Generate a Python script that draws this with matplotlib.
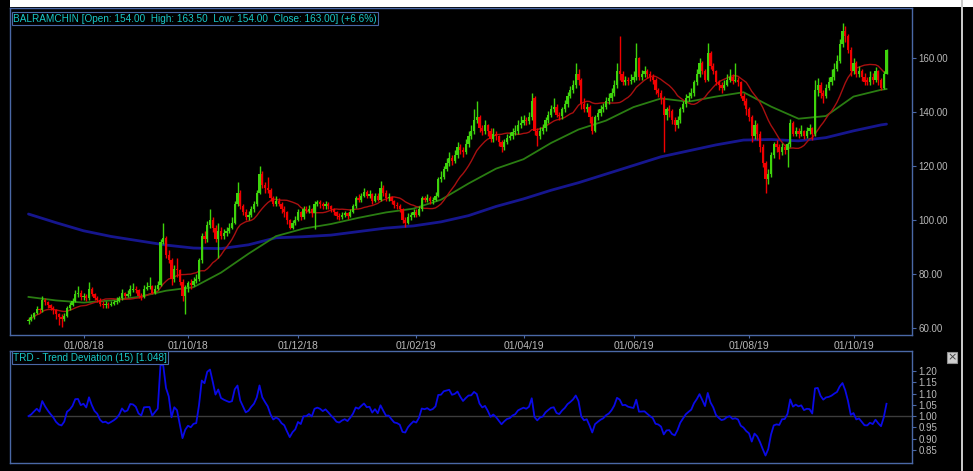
import matplotlib
matplotlib.use("Agg")
import matplotlib.pyplot as plt
from matplotlib.patches import Rectangle
import numpy as np
import pandas as pd

# ---------------- data (daily candles, BALRAMCHIN) ----------------
opens = [62.5, 63, 64, 65.5, 67, 66.5, 70.5, 69.5, 68.5, 67.5,
         66.5, 65, 64, 63.5, 64.5, 67.5, 68.5, 70, 72.5, 73,
         71.5, 72, 71, 74.5, 72.5, 71, 70.5, 69, 68.5, 69,
         68.5, 69, 69.5, 70, 71, 73, 72, 72.5, 74, 74.5,
         74, 72, 71.5, 74.5, 75, 75.5, 73, 74.5, 76, 92,
         93.5, 87, 85, 78, 82, 81.5, 77, 72, 75, 76.5,
         76, 77.5, 78, 85, 94, 93, 98, 100, 97, 93,
         96, 94, 95, 96, 97, 99, 106, 110, 105, 103,
         101, 102, 104, 106, 110, 117, 113, 112, 111, 108,
         106, 107, 106, 104, 103, 100, 97, 99, 100, 103,
         101, 104, 103.5, 104, 102.5, 106, 106.5, 106, 105, 106,
         105, 104, 103, 101.5, 101, 102, 102.5, 101.5, 103, 105,
         108, 107.5, 109, 110.5, 109, 109.5, 107, 109, 107.5, 112,
         110, 108, 108.5, 107, 105.5, 105, 104, 100, 99, 101,
         102, 103, 102, 104, 108, 107.5, 108, 107, 107.5, 109,
         115, 116, 119, 121, 123, 122, 124, 127, 126, 125,
         128, 131, 133, 137, 138, 134, 133, 135, 133, 130,
         132, 131, 129, 127, 129, 130.5, 131, 132.5, 133, 135,
         136, 137, 136.5, 138, 145, 133, 131, 133, 134, 137,
         139, 141, 142, 139, 138.5, 141, 143, 146, 148, 150,
         154, 152, 143, 141, 142, 138, 133, 138, 139.5, 141,
         142, 144, 145, 147, 150, 155, 154, 151, 152, 151.5,
         152, 153, 160, 153, 154, 155, 154, 153, 152, 148,
         147, 145, 139, 141, 140.5, 137, 135, 137, 141, 143,
         145, 146, 147, 151, 154, 158, 155, 152, 162, 157,
         155, 151, 150, 149, 150, 152, 153, 151.5, 152, 151,
         146, 144, 141, 138, 131, 135, 132, 127, 121, 115,
         117, 124, 128, 127, 125, 127, 126, 128, 136, 132,
         133, 132, 133, 131, 133, 134, 132, 148, 150, 147,
         146, 149, 151, 153, 156, 159, 165, 170, 168, 163,
         155, 158, 154, 155, 153, 152, 151, 153, 152, 155,
         152, 149, 154]
closes = [63, 64, 65.5, 67, 66.5, 70.5, 69.5, 68.5, 67.5, 66.5,
          65, 64, 63.5, 64.5, 67.5, 68.5, 70, 72.5, 73, 71.5,
          72, 71, 74.5, 72.5, 71, 70.5, 69, 68.5, 69, 68.5,
          69, 69.5, 70, 71, 73, 72, 72.5, 74.5, 74.5, 74,
          72, 71.5, 74.5, 75, 75.5, 73, 74.5, 76, 92, 93.5,
          87, 85, 78, 82, 81.5, 77, 72, 75, 76.5, 76,
          77.5, 78, 85, 94, 93, 98, 100, 97, 93, 96,
          94, 95, 96, 97, 99, 106, 110, 105, 103, 101,
          102, 104, 106, 110, 117, 113, 112, 111, 108, 106,
          107, 106, 104, 103, 100, 97, 99, 100, 103, 101,
          104, 103.5, 104, 102.5, 106, 106.5, 106, 105, 106, 105,
          104, 103, 101.5, 101, 102, 102.5, 101.5, 103, 105, 108,
          107.5, 109, 110.5, 109, 109.5, 107, 109, 107.5, 112, 110,
          108, 108.5, 107, 105.5, 105, 104, 100, 99, 101, 102,
          103, 102, 104, 108, 107.5, 108, 107, 107.5, 109, 115,
          116, 119, 121, 123, 122, 124, 127, 126, 125, 128,
          131, 133, 137, 138, 134, 133, 135, 133, 130, 132,
          131, 129, 127, 129, 130.5, 131, 132.5, 133, 135, 136,
          137, 136.5, 138, 144, 133, 131, 133, 134, 137, 139,
          141, 142, 139, 138.5, 141, 143, 146, 148, 150, 154,
          152, 143, 141, 142, 138, 133, 138, 139.5, 141, 142,
          144, 145, 147, 150, 155, 154, 151, 152, 151.5, 152,
          153, 160, 153, 154, 155, 154, 153, 152, 148, 147,
          145, 139, 141, 140.5, 137, 135, 137, 141, 143, 145,
          146, 147, 151, 154, 158, 155, 152, 162, 157, 155,
          151, 150, 149, 150, 152, 153, 151.5, 152, 151, 146,
          144, 141, 138, 131, 135, 132, 127, 121, 115, 117,
          124, 128, 127, 125, 127, 126, 128, 136, 132, 133,
          132, 133, 131, 133, 134, 132, 148, 150, 147, 146,
          149, 151, 153, 156, 159, 165, 170, 168, 163, 155,
          158, 154, 155, 153, 151, 151, 153, 152, 155, 152,
          149, 154, 163]
highs = [64, 65, 66, 68, 67.5, 72, 71, 70, 69, 68,
         67, 65.5, 65, 65.5, 68, 69.5, 71, 74, 75.5, 74,
         73, 72.5, 77, 75, 73, 72, 71, 70, 70, 69.5,
         70, 70.5, 71.5, 72, 74.5, 73.5, 74, 76, 76.5, 75.5,
         74.5, 73, 76, 77, 79, 76, 76, 77.5, 93, 99,
         94, 89, 86, 83.5, 86, 82, 78, 76, 77.5, 78,
         79, 80, 86, 95, 96, 99.5, 104, 101, 98, 99,
         97.5, 96.5, 97.5, 99, 101, 107, 114, 111, 106, 104,
         103.5, 105, 107, 111, 120, 118, 114, 116, 112, 109,
         109, 108, 106.5, 105, 103.5, 100.5, 100, 101.5, 104, 103.5,
         105, 105, 105.5, 104.5, 107, 107.5, 107.5, 106.5, 107, 106.5,
         105.5, 104.5, 103.5, 102.5, 103, 103.5, 103, 104, 106, 109,
         109.5, 110, 112, 111, 111, 110, 110, 110, 114.5, 113,
         111, 110, 109, 107.5, 106.5, 106, 104.5, 101, 102.5, 103,
         104, 104, 105, 109, 109, 109.5, 109, 108.5, 110.5, 116,
         118, 120, 123, 125, 124, 126, 129, 128, 127, 130,
         133, 135, 141, 144, 139, 135, 137, 135.5, 134, 134,
         133, 131.5, 129.5, 130, 132, 132.5, 134, 135, 137, 138.5,
         139, 138, 140, 147, 146, 134, 134.5, 135.5, 138, 140.5,
         142.5, 145, 143, 140, 142, 144.5, 147.5, 149.5, 152, 158,
         156, 152.5, 145, 143.5, 142.5, 138.5, 139, 141, 142.5, 143.5,
         145.5, 147, 149, 152, 158, 168, 155, 153.5, 153, 154,
         155, 165.5, 160.5, 155.5, 157, 156, 155, 154, 152.5, 149,
         148, 146, 142, 142.5, 141, 138, 138.5, 142, 144, 146.5,
         147.5, 149, 152, 156, 160, 159, 156, 165.5, 162.5, 158,
         155.5, 152, 151, 152, 154, 156, 154, 158, 153, 151.5,
         147, 145, 142, 139, 137, 136, 133, 128, 122, 119,
         125, 129, 129.5, 128, 128.5, 128, 129, 137.5, 136.5, 134.5,
         134, 135, 133.5, 134.5, 135.5, 134.5, 152, 152.5, 151, 148,
         150.5, 153, 156, 158, 161, 167, 173, 172, 169, 164,
         160, 159, 157, 156, 154.5, 153, 155, 154.5, 156.5, 155.5,
         152.5, 155, 163.5]
lows = [61.5, 62.5, 63.5, 65, 65.5, 66, 68.5, 67.5, 66.5, 65,
        63.5, 61, 60.5, 62.5, 64, 66.5, 68, 69.5, 71.5, 70.5,
        70.5, 70, 70.5, 72, 70.5, 69.5, 68, 67.5, 67.5, 67.5,
        68, 68.5, 69, 69.5, 70.5, 71, 71.5, 72, 73.5, 73,
        71, 70.5, 71, 74, 74.5, 72.5, 72.5, 74, 75.5, 91,
        86, 84, 76, 77, 79, 76, 70, 65, 73.5, 74.5,
        75.5, 76.5, 77.5, 84, 91.5, 92, 97, 95.5, 92, 86,
        93, 93, 94, 95, 96.5, 98.5, 105, 104, 102, 100,
        100, 101, 103, 105, 109.5, 112, 110, 110, 107, 105,
        105, 105, 102.5, 101, 98.5, 96.5, 96.5, 98, 99.5, 100,
        100.5, 102.5, 102.5, 101, 96.5, 105, 104.5, 104, 104, 104,
        103, 102, 100.5, 100, 100.5, 101, 100.5, 101, 102.5, 104.5,
        106.5, 106.5, 108.5, 108, 108, 106, 106.5, 107, 107, 109,
        107, 107, 106, 104.5, 104, 103, 99, 97.5, 98.5, 100,
        101, 101, 101.5, 103.5, 106.5, 106.5, 106, 106, 107, 108.5,
        114, 115, 118, 120, 120.5, 121, 123, 124.5, 123.5, 124.5,
        127, 130, 132, 136, 132.5, 131.5, 132, 131, 129, 129,
        129.5, 127.5, 125, 126, 128, 129.5, 130, 131.5, 132, 134,
        135, 135, 135.5, 137, 131.5, 127.5, 130, 132, 133, 136,
        138, 140, 138, 137, 137.5, 140, 142, 145, 147, 149,
        150, 141, 140, 140, 136, 132, 132.5, 137, 138.5, 140,
        141, 143, 144, 146, 149, 152, 150, 150, 150, 150.5,
        151, 152, 152, 152, 153, 152.5, 151.5, 150.5, 146.5, 145.5,
        143, 125, 137, 138, 135.5, 133, 134, 136, 140, 142,
        144, 145, 146, 150, 153, 154, 151, 151.5, 156, 154,
        150, 148, 147, 148, 149.5, 151, 150.5, 151, 149.5, 145,
        142.5, 139, 136.5, 129, 130, 129.5, 125, 119.5, 110, 113.5,
        116, 123, 125, 122.5, 124, 124.5, 119.5, 127, 131, 131,
        130.5, 131, 130, 130.5, 132, 129.5, 131, 146, 145, 143.5,
        145, 148, 150, 152, 155, 158, 164, 166, 162, 153.5,
        154, 153, 153, 151.5, 150, 150, 150, 150.5, 151, 150,
        148, 148.5, 154]

# moving averages every 10th session
ma_index = [0, 10, 20, 30, 40, 50, 60, 70, 80, 90, 100, 110, 120, 130, 140, 150,
            160, 170, 180, 190, 200, 210, 220, 230, 240, 250, 260, 270, 280, 290,
            300, 310, 312]
ma50 = [71.5, 70.2, 69.4, 70.2, 71.5, 73.8, 75.1, 80.5, 87.5, 94, 96.8, 98.5,
        100.8, 102.8, 104.2, 107.5, 113.5, 119, 122.5, 128.5, 133.5, 136.8, 141.8,
        145, 143.8, 145.7, 147.3, 142, 137.5, 138.5, 145.7, 148.2, 148.5]
ma200 = [102.2, 99, 96, 93.9, 92.3, 90.7, 89.6, 89.4, 90.8, 93.4, 93.8, 94.4,
         95.7, 97, 97.8, 99.3, 101.6, 105, 107.8, 111, 113.8, 117, 120.2, 123.4,
         125.6, 127.8, 129.6, 129.8, 129.3, 130.5, 133, 135.2, 135.5]

date_index = [20, 58, 98, 141, 180, 220, 262, 300]
date_labels = ["01/08/18", "01/10/18", "01/12/18", "01/02/19",
               "01/04/19", "01/06/19", "01/08/19", "01/10/19"]
price_ticks = [60, 80, 100, 120, 140, 160]
trd_ticks = [0.85, 0.90, 0.95, 1.00, 1.05, 1.10, 1.15, 1.20]
header = "BALRAMCHIN [Open: 154.00  High: 163.50  Low: 154.00  Close: 163.00] (+6.6%)"
trd_title = "TRD - Trend Deviation (15) [1.048]"

# ---------------- derived indicator ----------------
c = pd.Series(closes, dtype=float)
ma15 = c.rolling(15, min_periods=1).mean()
trd = c / ma15

# ---------------- styling ----------------
W, H = 973, 471
BG = "black"
EDGE = "#4a68a6"
TXT = "#b8b8b8"
CYAN = "#19c8c8"
UP = "#3ed40c"
DN = "#f00000"
FONT = "Liberation Sans"


def rect(x0, y0, x1, y1):
    return [x0 / W, 1 - y1 / H, (x1 - x0) / W, (y1 - y0) / H]


fig = plt.figure(figsize=(W / 100, H / 100), dpi=100, facecolor=BG)
fig.patches.append(Rectangle((10 / W, 1 - 7 / H), 1, 7 / H, transform=fig.transFigure,
                             facecolor="white", edgecolor="none", zorder=0))
fig.patches.append(Rectangle((961 / W, 0), 2 / W, 1, transform=fig.transFigure,
                             facecolor="#c8c8c8", edgecolor="none", zorder=0))

ax = fig.add_axes(rect(10, 8, 912, 335), facecolor=BG)
ax2 = fig.add_axes(rect(10, 351, 912, 463), facecolor=BG)

n = len(closes)
x = np.arange(n)
o = np.array(opens, float)
cl = np.array(closes, float)
hi = np.array(highs, float)
lo = np.array(lows, float)
colors = [UP if cc >= oo else DN for oo, cc in zip(o, cl)]

# MA lines
ax.plot(ma_index, ma200, color="#16168e", lw=2.0, zorder=2, solid_capstyle="round")
ax.plot(ma_index, ma50, color="#2a7d12", lw=1.3, zorder=2)
ax.plot(x, ma15, color="#a81010", lw=1.0, zorder=2)

# candles
ax.vlines(x, lo, hi, colors=colors, lw=1.0, zorder=3)
body_b = np.minimum(o, cl)
body_h = np.maximum(np.abs(cl - o), 0.3)
ax.bar(x, body_h, bottom=body_b, width=0.8, color=colors, linewidth=0, zorder=4)

xl = (-(28.5 - 10) / 2.75, 312 + (912 - 886.5) / 2.75)
ax.set_xlim(*xl)
ax.set_ylim(57.4, 178.5)
ax.yaxis.tick_right()
ax.set_yticks(price_ticks)
ax.set_yticklabels([f"{v:.2f}" for v in price_ticks])
ax.set_xticks(date_index)
ax.set_xticklabels(date_labels)
ax.tick_params(axis="y", colors=EDGE, labelcolor=TXT, labelsize=7, length=3, pad=1.5, width=0.8)
ax.tick_params(axis="x", colors=EDGE, labelcolor=TXT, labelsize=7.5, length=2, pad=2.5, width=0.8)
for lab in ax.get_xticklabels() + ax.get_yticklabels():
    lab.set_fontfamily(FONT)
for s in ax.spines.values():
    s.set_color(EDGE)
    s.set_linewidth(1.0)

ax.text(0.0035, 0.983, header,
        transform=ax.transAxes, ha="left", va="top", color=CYAN, fontsize=7.2, family=FONT,
        bbox=dict(boxstyle="square,pad=0.12", facecolor=BG, edgecolor=EDGE, linewidth=0.8))

# TRD panel
ax2.axhline(1.0, xmin=(0 - xl[0]) / (xl[1] - xl[0]), color="#3c3c3c", lw=1.0, zorder=1)
ax2.plot(x, trd, color="#0a0ae6", lw=1.3, zorder=2)
ax2.set_xlim(*xl)
ax2.set_ylim(0.7925, 1.2885)
ax2.yaxis.tick_right()
ax2.set_yticks(trd_ticks)
ax2.set_yticklabels([f"{v:.2f}" for v in trd_ticks])
ax2.set_xticks([])
ax2.tick_params(axis="y", colors=EDGE, labelcolor=TXT, labelsize=7, length=3, pad=1.5, width=0.8)
for lab in ax2.get_yticklabels():
    lab.set_fontfamily(FONT)
for s in ax2.spines.values():
    s.set_color(EDGE)
    s.set_linewidth(1.0)
ax2.text(0.0035, 0.985, trd_title,
         transform=ax2.transAxes, ha="left", va="top", color=CYAN, fontsize=7.2, family=FONT,
         bbox=dict(boxstyle="square,pad=0.12", facecolor=BG, edgecolor=EDGE, linewidth=0.8))

# close button of the panel
fig.patches.append(Rectangle((947 / W, 1 - 363 / H), 10 / W, 11 / H, transform=fig.transFigure,
                             facecolor="#d0d0d0", edgecolor="#909090", lw=0.8, zorder=5))
fig.text(952 / W, 1 - 357.5 / H, "×", ha="center", va="center", color="#404040",
         fontsize=8, family="DejaVu Sans", zorder=6)

fig.savefig("out.png", dpi=100, facecolor=BG)
